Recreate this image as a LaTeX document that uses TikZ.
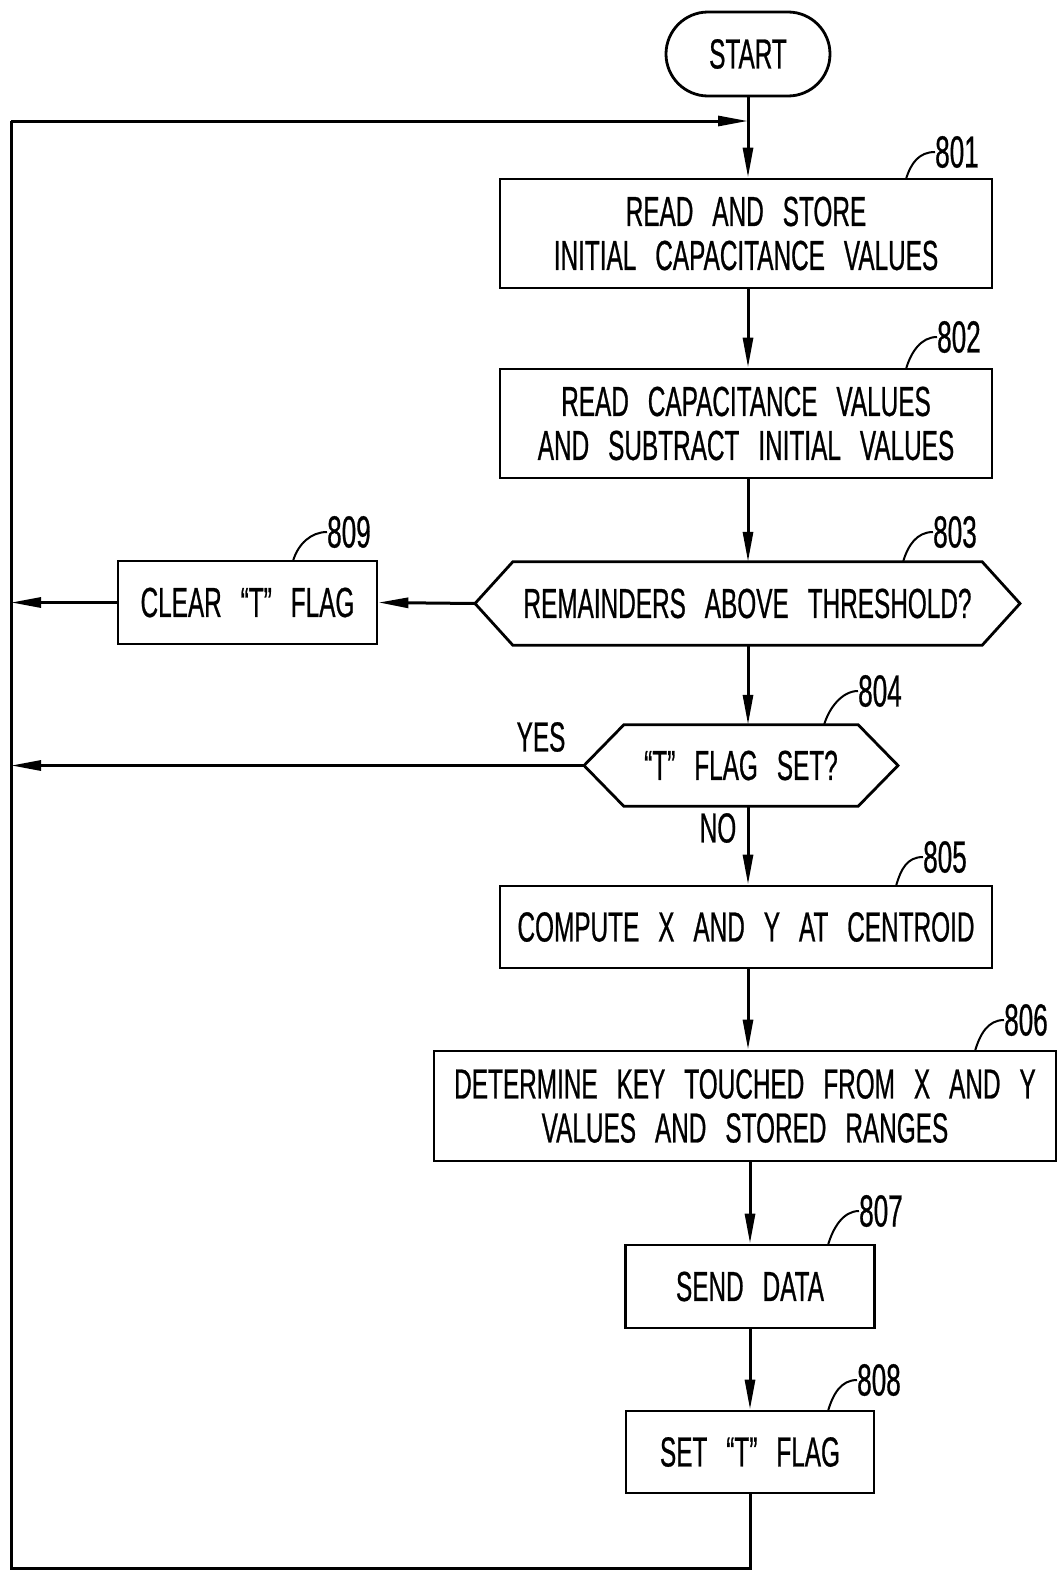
\documentclass[tikz,border=0pt]{standalone}
\usepackage{fontspec}
\setmainfont{Liberation Sans}[FakeStretch=0.58,WordSpace=2.8,FakeBold=0.6]
\usetikzlibrary{arrows.meta,shapes.misc}
\begin{document}
\begin{tikzpicture}[x=1pt,y=-1pt,
  every node/.style={font=\fontsize{42}{44}\selectfont, inner sep=0pt},
  proc/.style={draw, line width=2.8pt, align=center},
  term/.style={draw, line width=2.8pt, rounded rectangle, minimum width=164pt, minimum height=84pt},
  hexbox/.style={align=center},
  hexline/.style={line width=2.8pt, line join=miter},
  flow/.style={line width=3pt},
  arr/.style={line width=3pt, -{Triangle[length=30pt,width=10pt]}},
  lead/.style={line width=2pt},
  lbl/.style={anchor=west, font=\fontsize{45}{46}\selectfont}]
\useasboundingbox (0,0) rectangle (1058,1574);

% main nodes
\node[term] (start) at (748,54) {START};
\node[proc, minimum width=492pt, minimum height=109pt] (b801) at (746,233.5) {READ AND STORE\\INITIAL CAPACITANCE VALUES};
\node[proc, minimum width=492pt, minimum height=109pt] (b802) at (746,423.5) {READ CAPACITANCE VALUES\\AND SUBTRACT INITIAL VALUES};
\node[hexbox, minimum width=469pt, minimum height=83pt] (d803) at (747.5,603.5) {REMAINDERS ABOVE THRESHOLD?};
\coordinate (d803w) at (475,603.5);
\coordinate (d803e) at (1020,603.5);
\draw[hexline] (d803.north west) -- (d803.north east) -- (d803e) -- (d803.south east) -- (d803.south west) -- (d803w) -- cycle;
\node[proc, minimum width=259pt, minimum height=83pt] (b809) at (247.5,602.5) {CLEAR “T” FLAG};
\node[hexbox, minimum width=234pt, minimum height=81pt] (d804) at (741,765.5) {“T” FLAG SET?};
\coordinate (d804w) at (584,765.5);
\coordinate (d804e) at (898,765.5);
\draw[hexline] (d804.north west) -- (d804.north east) -- (d804e) -- (d804.south east) -- (d804.south west) -- (d804w) -- cycle;
\node[proc, minimum width=492pt, minimum height=82pt] (b805) at (746,927) {COMPUTE X AND Y AT CENTROID};
\node[proc, minimum width=622pt, minimum height=110pt] (b806) at (745,1106) {DETERMINE KEY TOUCHED FROM X AND Y\\VALUES AND STORED RANGES};
\node[proc, minimum width=249pt, minimum height=83pt] (b807) at (750,1286.5) {SEND DATA};
\node[proc, minimum width=248pt, minimum height=82pt] (b808) at (750,1452) {SET “T” FLAG};

% loop coordinates
\coordinate (bl) at (11,1568);
\coordinate (tl) at (11,121);
\coordinate (join) at (748,121);

% main flow
\draw[arr] (start.south) -- (start.south |- b801.north);
\draw[arr] (b801.south -| start) -- (b802.north -| start);
\draw[arr] (b802.south -| start) -- (d803.north -| start);
\draw[arr] (d803.south -| start) -- (d804.north -| start);
\draw[arr] (d804.south -| start) -- (b805.north -| start);
\draw[arr] (b805.south -| start) -- (b806.north -| start);
\draw[arr] (b806.south -| b807) -- (b807.north);
\draw[arr] (b807.south) -- (b808.north);
\draw[arr] (d803w) -- (b809.east);
\draw[arr] (b809.west) -- (b809.west -| tl);
\draw[arr] (d804w) -- (d804w -| tl);
\draw[flow, line join=miter] (b808.south) -- (b808.south |- bl) -- (bl) -- (tl);
\draw[arr] (tl) -- (join);

% branch labels
\node (yes) at (541,737) {YES};
\node (no) at (718,828) {NO};

% reference labels
\node[lbl] (l801) at (935,152) {801};
\draw[lead] (906,179) .. controls +(5,-16) and +(-16,0) .. (l801.west);
\node[lbl] (l802) at (937,337) {802};
\draw[lead] (906,369) .. controls +(5,-17) and +(-16,0) .. (l802.west);
\node[lbl] (l803) at (933,532) {803};
\draw[lead] (903,562) .. controls +(5,-17) and +(-16,0) .. (l803.west);
\node[lbl] (l809) at (327,532) {809};
\draw[lead] (293,561) .. controls +(5,-17) and +(-16,0) .. (l809.west);
\node[lbl] (l804) at (858,691) {804};
\draw[lead] (824,725) .. controls +(5,-17) and +(-16,0) .. (l804.west);
\node[lbl] (l805) at (923,857) {805};
\draw[lead] (896,886) .. controls +(5,-17) and +(-16,0) .. (l805.west);
\node[lbl] (l806) at (1004,1020) {806};
\draw[lead] (975,1051) .. controls +(5,-17) and +(-16,0) .. (l806.west);
\node[lbl] (l807) at (859,1211) {807};
\draw[lead] (828,1245) .. controls +(5,-17) and +(-16,0) .. (l807.west);
\node[lbl] (l808) at (857,1380) {808};
\draw[lead] (828,1411) .. controls +(5,-17) and +(-16,0) .. (l808.west);
\end{tikzpicture}
\end{document}
